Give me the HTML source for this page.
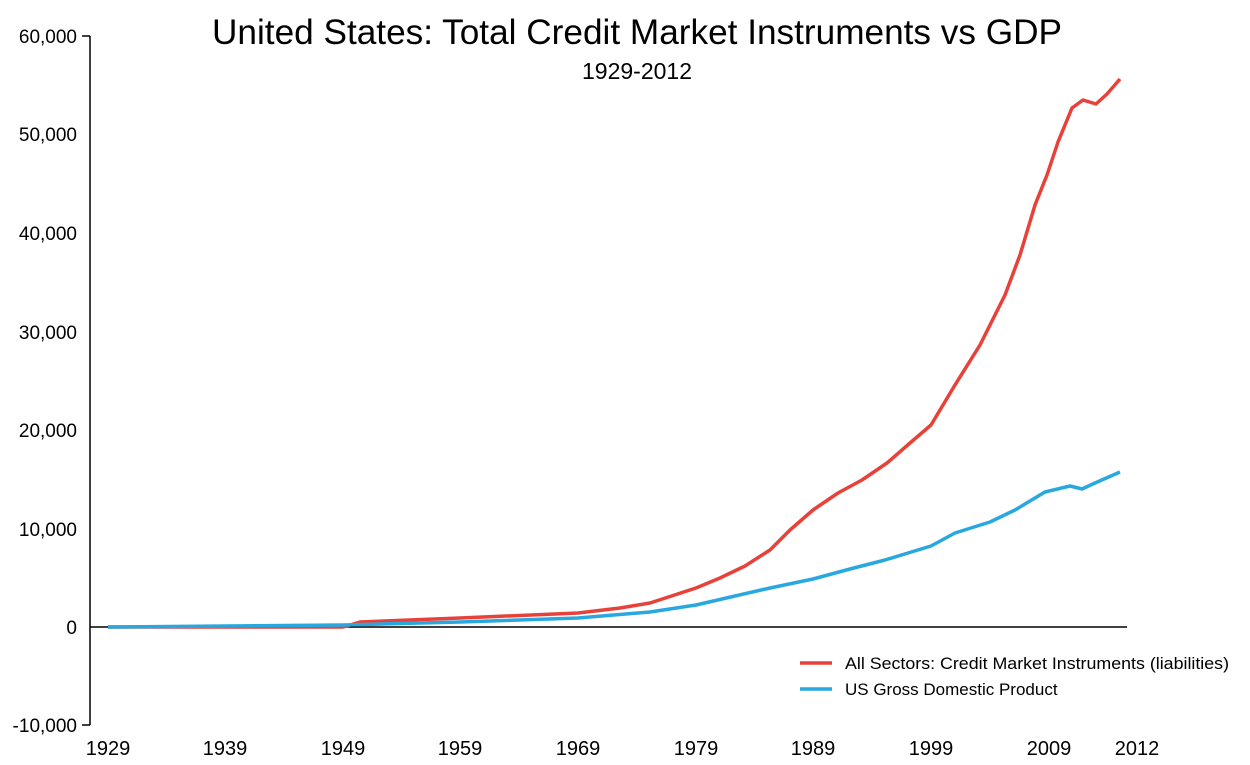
<!DOCTYPE html>
<html><head><style>body{margin:0;background:#fff}svg{display:block}text{font-family:"Liberation Sans",sans-serif;fill:#000}</style></head>
<body>
<svg width="1250" height="765" viewBox="0 0 1250 765">
<text x="637" y="44" font-size="35" text-anchor="middle" textLength="850" lengthAdjust="spacingAndGlyphs">United States: Total Credit Market Instruments vs GDP</text>
<text x="637" y="79" font-size="23" text-anchor="middle">1929-2012</text>
<g stroke="#000" stroke-width="1.5" fill="none">
<line x1="90" y1="36" x2="90" y2="725"/>
<line x1="82" y1="36" x2="90" y2="36"/>
<line x1="82" y1="725" x2="90" y2="725"/>
<line x1="90" y1="627" x2="1127" y2="627"/>
</g>
<g font-size="19" text-anchor="end">
<text x="77" y="43">60,000</text><text x="77" y="141">50,000</text><text x="77" y="240">40,000</text>
<text x="77" y="339">30,000</text><text x="77" y="437">20,000</text><text x="77" y="536">10,000</text>
<text x="77" y="634">0</text><text x="77" y="732">-10,000</text>
</g>
<g font-size="20" text-anchor="middle">
<text x="108" y="755">1929</text><text x="225" y="755">1939</text><text x="343" y="755">1949</text>
<text x="460" y="755">1959</text><text x="578" y="755">1969</text><text x="696" y="755">1979</text>
<text x="813" y="755">1989</text><text x="931" y="755">1999</text><text x="1049" y="755">2009</text>
<text x="1137" y="755">2012</text>
</g>
<polyline fill="none" stroke="#e8413a" stroke-width="3.5" stroke-linejoin="round" points="108,627 343,627 360,622 460,618 578,613 620,608 650,603 696,588 720,578 745,566 770,550 790,530 813,510 838,493 862,480 887,463 910,443 931,425 955,385 980,345 1005,295 1020,255 1035,205 1047,175 1058,142 1072,108 1083,100 1096,104 1107,94 1120,79"/>
<polyline fill="none" stroke="#29a8e0" stroke-width="3.5" stroke-linejoin="round" points="108,627 343,625 460,622 578,618 650,612 696,605 735,596 770,588 813,579 850,569 885,560 931,546 955,533 990,522 1015,510 1045,492 1070,486 1082,489 1095,483 1120,472"/>
<line x1="800" y1="663" x2="832" y2="663" stroke="#e8413a" stroke-width="3.5"/>
<line x1="800" y1="689" x2="832" y2="689" stroke="#29a8e0" stroke-width="3.5"/>
<text x="845" y="669" font-size="17" textLength="384" lengthAdjust="spacingAndGlyphs">All Sectors: Credit Market Instruments (liabilities)</text>
<text x="845" y="695" font-size="17">US Gross Domestic Product</text>
</svg>
</body></html>
